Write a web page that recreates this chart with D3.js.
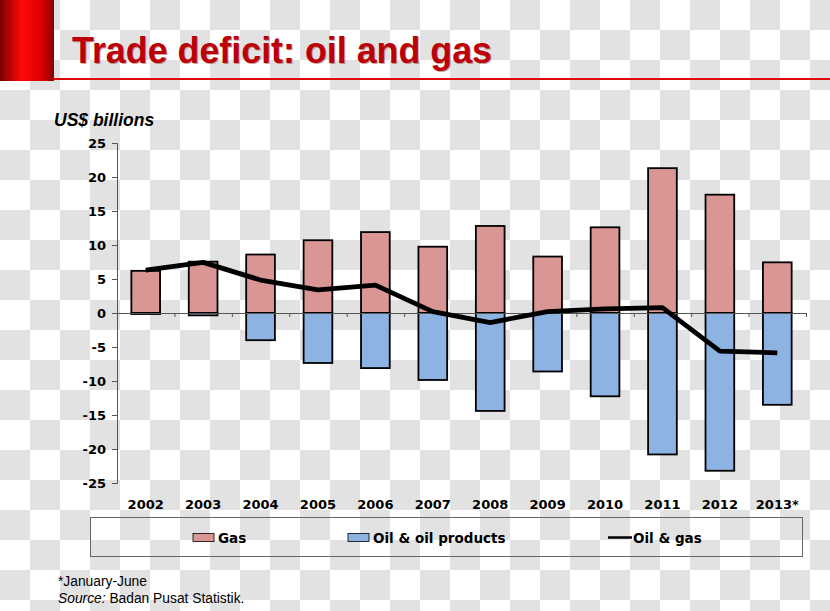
<!DOCTYPE html>
<html>
<head>
<meta charset="utf-8">
<script src="https://cdn.jsdelivr.net/npm/d3@7"></script>
<style>
html,body{margin:0;padding:0;background:#fff;}
svg{display:block;}
</style>
</head>
<body>
<svg id="chart" width="830" height="611"></svg>
<script>
// ---- data ----
const years = ["2002","2003","2004","2005","2006","2007","2008","2009","2010","2011","2012","2013*"];
const gas = [6.2, 7.55, 8.6, 10.7, 11.9, 9.75, 12.8, 8.3, 12.6, 21.3, 17.4, 7.45];
const oilProducts = [-0.15, -0.35, -4.0, -7.35, -8.1, -9.85, -14.4, -8.6, -12.25, -20.8, -23.2, -13.5];
const oilAndGas = [6.3, 7.45, 4.85, 3.4, 4.1, 0.2, -1.4, 0.2, 0.6, 0.8, -5.6, -5.85];
const yTicks = [-25, -20, -15, -10, -5, 0, 5, 10, 15, 20, 25];
const legendLabels = ["Gas", "Oil & oil products", "Oil & gas"];

const svg = d3.select("#chart");
const W = 830, H = 611;

// ---- checkerboard background ----
const defs = svg.append("defs");
const pat = defs.append("pattern").attr("id","chk").attr("patternUnits","userSpaceOnUse")
  .attr("width",60).attr("height",60);
pat.append("rect").attr("width",60).attr("height",60).attr("fill","#ffffff");
pat.append("rect").attr("x",30).attr("y",0).attr("width",30).attr("height",30).attr("fill","#e2e2e2");
pat.append("rect").attr("x",0).attr("y",30).attr("width",30).attr("height",30).attr("fill","#e2e2e2");
svg.append("rect").attr("width",W).attr("height",H).attr("fill","url(#chk)");

// ---- header ----
const grad = defs.append("linearGradient").attr("id","barGrad").attr("x1","0").attr("x2","1").attr("y1","0").attr("y2","0");
grad.append("stop").attr("offset","0%").attr("stop-color","#7a0000");
grad.append("stop").attr("offset","40%").attr("stop-color","#ff0a0a");
grad.append("stop").attr("offset","75%").attr("stop-color","#e00000");
grad.append("stop").attr("offset","100%").attr("stop-color","#8a0000");
svg.append("rect").attr("x",0).attr("y",0).attr("width",54).attr("height",81).attr("fill","url(#barGrad)");
svg.append("line").attr("x1",54).attr("x2",830).attr("y1",79).attr("y2",79)
  .attr("stroke","#e00a0a").attr("stroke-width",2);
svg.append("text").attr("x",73).attr("y",63.5)
  .attr("font-family","'Liberation Sans', Arial, sans-serif").attr("font-weight","bold")
  .attr("font-size",36).attr("fill","#700000").attr("opacity",0.35)
  .attr("textLength",420).attr("lengthAdjust","spacingAndGlyphs")
  .text("Trade deficit: oil and gas");
svg.append("text").attr("x",72).attr("y",62.5)
  .attr("font-family","'Liberation Sans', Arial, sans-serif").attr("font-weight","bold")
  .attr("font-size",36).attr("fill","#bb0008")
  .attr("textLength",420).attr("lengthAdjust","spacingAndGlyphs")
  .text("Trade deficit: oil and gas");

// ---- scales ----
const x0 = 117, x1 = 806, yTop = 143, yBot = 483;
const x = d3.scaleBand().domain(years).range([x0, x1]).paddingInner(0.5).paddingOuter(0.25);
const y = d3.scaleLinear().domain([-25, 25]).range([yBot, yTop]);
const xIdx = d3.scaleLinear().domain([0, years.length]).range([x0, x1]);

// unit label
svg.append("text").attr("x",54).attr("y",126)
  .attr("font-family","'Liberation Sans', Arial, sans-serif").attr("font-weight","bold")
  .attr("font-style","italic").attr("font-size",17.5).attr("fill","#000")
  .text("US$ billions");

const tickFont = "'DejaVu Sans', Verdana, sans-serif";

// y axis
const gy = svg.append("g").attr("transform",`translate(${x0},0)`)
  .call(d3.axisLeft(y).tickValues(yTicks).tickSize(5).tickPadding(6).tickFormat(d3.format("d")));
gy.select(".domain").attr("stroke","#555").attr("stroke-width",1);
gy.selectAll(".tick line").attr("stroke","#555");
gy.selectAll(".tick text").attr("font-family",tickFont).attr("font-weight","bold")
  .attr("font-size",13).attr("fill","#000").text(d => d < 0 ? "-" + Math.abs(d) : d);

// bars
const bw = x.bandwidth();
svg.append("g").selectAll("rect").data(years).join("rect")
  .attr("x", d => x(d)).attr("width", bw)
  .attr("y", (d,i) => y(gas[i])).attr("height", (d,i) => y(0) - y(gas[i]))
  .attr("fill","#d99694").attr("stroke","#000").attr("stroke-width",1.8);
svg.append("g").selectAll("rect").data(years).join("rect")
  .attr("x", d => x(d)).attr("width", bw)
  .attr("y", y(0)).attr("height", (d,i) => y(oilProducts[i]) - y(0))
  .attr("fill","#8db3e2").attr("stroke","#000").attr("stroke-width",1.8);

// x axis zero line with ticks at category boundaries
const gx = svg.append("g").attr("transform",`translate(0,${y(0)})`)
  .call(d3.axisBottom(xIdx).tickValues(d3.range(1, years.length + 1)).tickSize(4).tickFormat(""));
gx.select(".domain").attr("stroke","#555").attr("stroke-width",1);
gx.selectAll(".tick line").attr("stroke","#555");

// x labels
const gxl = svg.append("g").attr("transform",`translate(0,${yBot})`)
  .call(d3.axisBottom(x).tickSize(0).tickPadding(17));
gxl.select(".domain").remove();
gxl.selectAll(".tick text").attr("font-family",tickFont).attr("font-weight","bold")
  .attr("font-size",13).attr("fill","#000");

// line
const line = d3.line().x((d,i) => x(years[i]) + bw/2).y(d => y(d));
svg.append("path").datum(oilAndGas).attr("d", line)
  .attr("fill","none").attr("stroke","#000").attr("stroke-width",4.8)
  .attr("stroke-linejoin","round").attr("stroke-linecap","butt");

// ---- legend ----
svg.append("rect").attr("x",90.5).attr("y",517.5).attr("width",712).attr("height",39)
  .attr("fill","none").attr("stroke","#666").attr("stroke-width",1);
const lg = svg.append("g").attr("font-family",tickFont).attr("font-weight","bold").attr("font-size",13.5);
svg.append("rect").attr("x",193).attr("y",533.5).attr("width",21).attr("height",8)
  .attr("fill","#d99694").attr("stroke","#000").attr("stroke-width",0.8);
lg.append("text").attr("x",218).attr("y",542.5).text(legendLabels[0]);
svg.append("rect").attr("x",348).attr("y",533.5).attr("width",21).attr("height",8)
  .attr("fill","#8db3e2").attr("stroke","#000").attr("stroke-width",0.8);
lg.append("text").attr("x",373).attr("y",542.5).text(legendLabels[1]);
svg.append("line").attr("x1",608).attr("x2",632).attr("y1",537.5).attr("y2",537.5)
  .attr("stroke","#000").attr("stroke-width",2.5);
lg.append("text").attr("x",633).attr("y",542.5).text(legendLabels[2]);

// ---- footnotes ----
const fn = svg.append("g").attr("font-family","'Liberation Sans', Arial, sans-serif").attr("font-size",13.8).attr("fill","#000");
fn.append("text").attr("x",58).attr("y",586).text("*January-June");
const src = fn.append("text").attr("x",58).attr("y",603);
src.append("tspan").attr("font-style","italic").text("Source:");
src.append("tspan").text(" Badan Pusat Statistik.");
</script>
</body>
</html>
